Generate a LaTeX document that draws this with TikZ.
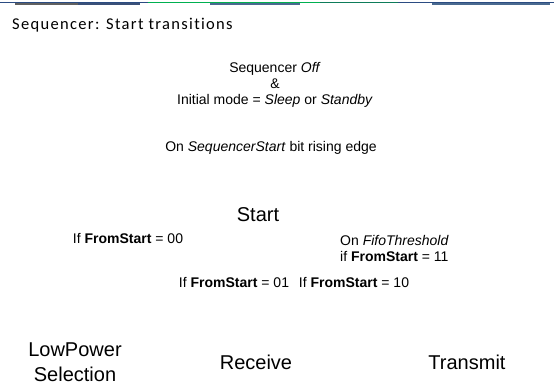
\documentclass[tikz,border=0pt]{standalone}
\usepackage{fontspec}
\setmainfont{Liberation Sans}
\newfontfamily\titlefont[Ligatures=NoCommon,LetterSpace=8]{Carlito}
\definecolor{navy}{HTML}{2B4C82}
\definecolor{slate}{HTML}{3A5078}
\definecolor{greyb}{HTML}{606060}
\definecolor{brightgreen}{HTML}{00B050}
\definecolor{teal}{HTML}{0E7C5A}
\definecolor{steel}{HTML}{4A6A90}
\tikzset{
	cond/.style={inner sep=0pt,font=\fontsize{14}{16}\selectfont,align=center},
	state/.style={inner sep=0pt,font=\fontsize{20}{25}\selectfont,align=center}
}
\begin{document}
\begin{tikzpicture}[x=1pt,y=-1pt]
			\useasboundingbox(0,0)rectangle(554,385);
			% top stripe
			\draw[navy,line width=1.5pt](0,2.5)--(148,2.5);
			\draw[greyb,line width=1.5pt](15,3.8)--(78,3.8);
			\draw[slate,line width=1.5pt](78,3.8)--(140,3.8);
			\draw[brightgreen,line width=1.5pt](148,2.5)--(320,2.5);
			\draw[steel,line width=1.5pt](210,3.8)--(300,3.8);
			\draw[teal,line width=1.5pt](320,2.5)--(398,2.5);
			\draw[navy,line width=1.5pt](398,2.5)--(554,2.5);
			\draw[steel,line width=1.5pt](432,3.8)--(550,3.8);
			\node[anchor=west,inner sep=0pt,font=\titlefont\fontsize{16.5}{19}\selectfont](title)at(12,25){Sequencer: Start transitions};
			% conditions
			\node[cond](off)at(275,85){Sequencer \textit{Off}\\\&\\Initial mode = \textit{Sleep} or \textit{Standby}};
			\node[cond](edge)at(271,148){On \textit{SequencerStart} bit rising edge};
			\node[state](start)at(258,215){Start};
			\node[cond](c00)at(128,239){If \textbf{FromStart} = 00};
			\node[cond,align=left,anchor=west](c11)at(340,248){On \textit{FifoThreshold}\\if \textbf{FromStart} = 11};
			\node[cond](c01)at(234,283){If \textbf{FromStart} = 01};
			\node[cond](c10)at(354,283){If \textbf{FromStart} = 10};
			% states
			\node[state](lowpower)at(75,362){LowPower\\Selection};
			\node[state](receive)at(256,362){Receive};
			\node[state](transmit)at(467,362){Transmit};
		\end{tikzpicture}
\end{document}
